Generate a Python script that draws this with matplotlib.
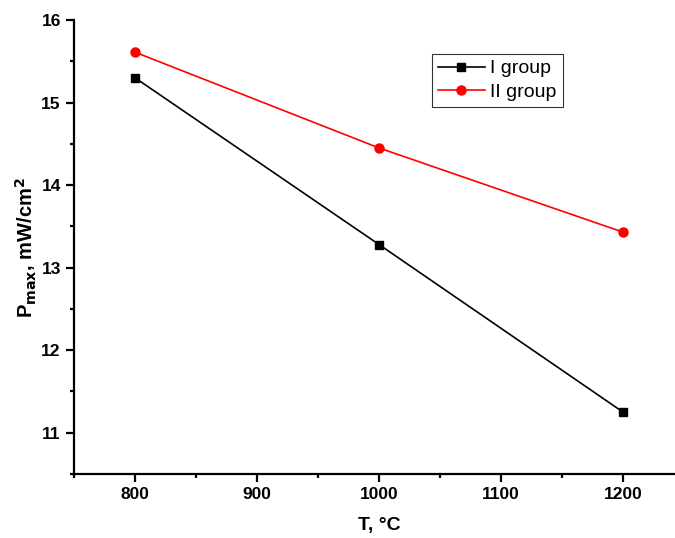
import matplotlib
matplotlib.use('Agg')
import matplotlib.pyplot as plt
from matplotlib.ticker import MultipleLocator

plt.rcParams['font.family'] = ['Liberation Sans', 'DejaVu Sans']

# data
temps = [800, 1000, 1200]
group1 = [15.30, 13.28, 11.25]
group2 = [15.61, 14.45, 13.43]

fig = plt.figure(figsize=(6.75, 5.38), dpi=100)
# axes runs a bit past the right edge of the figure, as in the original
ax = fig.add_axes([74 / 675, 64 / 538, 610 / 675, 454 / 538])

ax.plot(temps, group1, color='black', marker='s', markersize=6, linewidth=1.2, label='I group')
ax.plot(temps, group2, color='red', marker='o', markersize=6.5, linewidth=1.2, label='II group')

ax.set_xlim(750, 1250)
ax.set_ylim(10.5, 16)
ax.xaxis.set_major_locator(MultipleLocator(100))
ax.xaxis.set_minor_locator(MultipleLocator(50))
ax.yaxis.set_major_locator(MultipleLocator(1))
ax.yaxis.set_minor_locator(MultipleLocator(0.5))

for s in ['top', 'right']:
    ax.spines[s].set_visible(False)
for s in ['left', 'bottom']:
    ax.spines[s].set_linewidth(1.6)

ax.tick_params(which='major', direction='out', length=6, width=1.6, labelsize=12.5)
ax.tick_params(which='minor', direction='out', length=3, width=1.6)
for lbl in ax.get_xticklabels() + ax.get_yticklabels():
    lbl.set_fontweight('bold')

ax.set_xlabel('T, °C', fontsize=14, fontweight='bold', labelpad=11)
ax.set_ylabel(r'P$_{\mathbf{max}}$, mW/cm$^{\mathbf{2}}$', fontsize=14.5, fontweight='bold', labelpad=2)

leg = ax.legend(loc='upper left', bbox_to_anchor=(0.587, 0.925), fontsize=14,
                frameon=True, fancybox=False, edgecolor='black', handlelength=2.4,
                borderpad=0.3, labelspacing=0.3, handletextpad=0.3, borderaxespad=0)
leg.get_frame().set_linewidth(0.8)

fig.savefig('out.png', dpi=100)
